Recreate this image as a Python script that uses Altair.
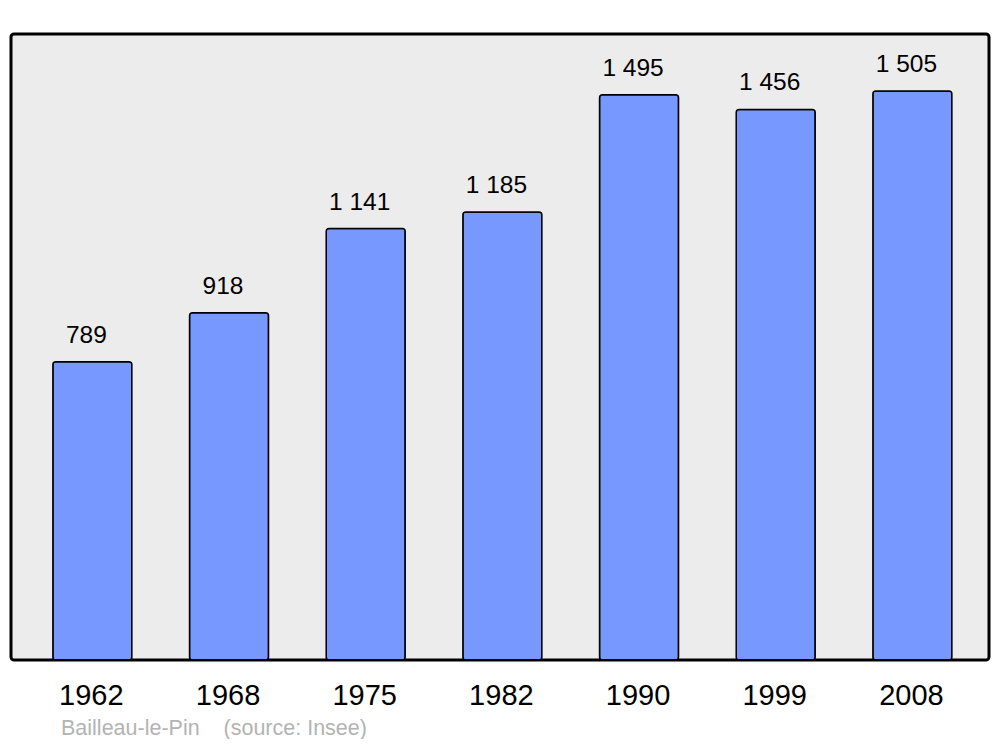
import altair as alt
import pandas as pd

years = ["1962", "1968", "1975", "1982", "1990", "1999", "2008"]
population = [789, 918, 1141, 1185, 1495, 1456, 1505]
labels = ["789", "918", "1 141", "1 185", "1 495", "1 456", "1 505"]
source_text = "Bailleau-le-Pin" + "\u00a0" * 4 + "(source: Insee)"

df = pd.DataFrame({"year": years, "pop": population, "label": labels})

W, H = 978, 626
ymax = max(population) * 1.1

x = alt.X("year:N", sort=years,
          scale=alt.Scale(paddingInner=0.422, paddingOuter=0.289, align=0.53),
          axis=None)
y = alt.Y("pop:Q", scale=alt.Scale(domain=[0, ymax], nice=False, zero=True), axis=None)

base = alt.Chart(df)

bars = base.mark_bar(color="#7799ff", stroke="black", strokeWidth=1.5,
                     cornerRadius=3).encode(x=x, y=y)

vals = base.mark_text(font="Liberation Sans", fontSize=24.5, baseline="alphabetic",
                      dy=-19, dx=-6, color="black").encode(x=x, y=y, text="label:N")

yrs = base.mark_text(font="Liberation Sans", fontSize=29, baseline="alphabetic",
                     dx=-1, color="black").encode(x=x, y=alt.value(H + 45), text="year:N")

src = alt.Chart(pd.DataFrame({"t": [source_text]})).mark_text(
    font="Liberation Sans", fontSize=21.5, baseline="alphabetic", align="left",
    color="#b3b3b3").encode(x=alt.value(50), y=alt.value(H + 75), text="t:N")

chart = alt.layer(bars, vals, yrs, src).properties(
    width=W, height=H,
    background="white",
    autosize=alt.AutoSizeParams(type="none"),
    padding={"left": 3, "top": 26, "right": 3, "bottom": 79},
).configure_view(
    stroke="black", strokeWidth=3, fill="#ececec", cornerRadius=3
)

chart.save("out.html", embed_options={"renderer": "svg", "actions": False})
